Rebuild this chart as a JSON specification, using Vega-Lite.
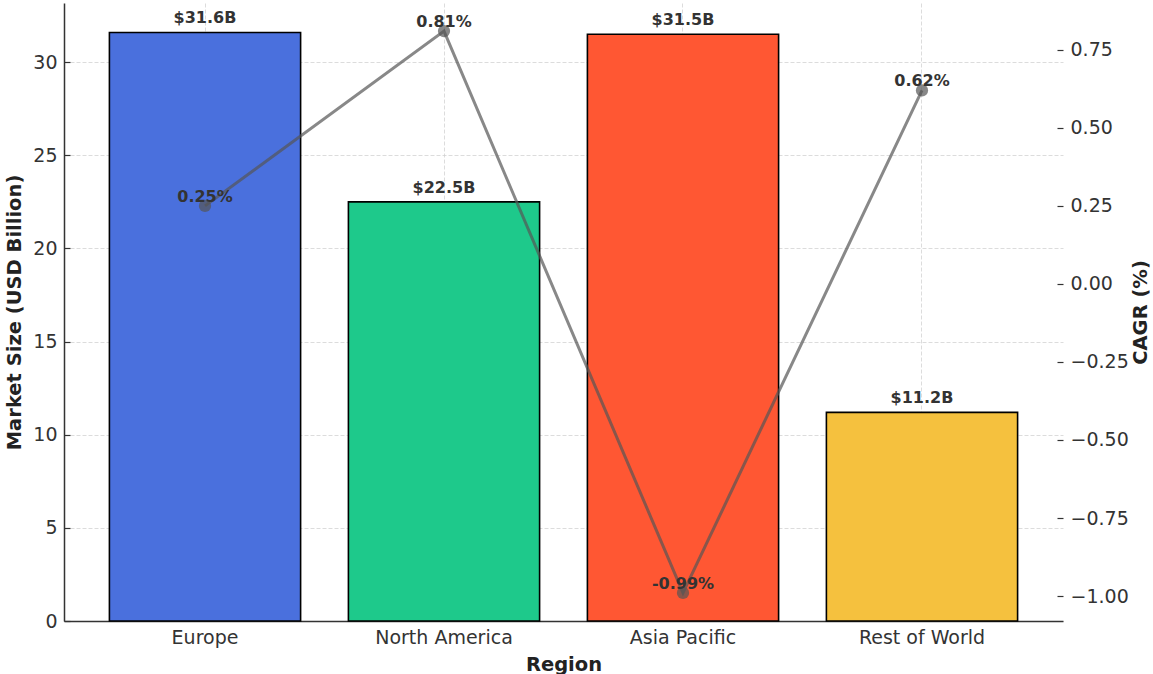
{
  "$schema": "https://vega.github.io/schema/vega-lite/v6.json",
  "width": 999,
  "height": 618,
  "autosize": {"type": "none"},
  "padding": {"left": 64, "top": 3, "right": 90, "bottom": 53},
  "background": "white",
  "config": {
    "font": "DejaVu Sans",
    "view": {"stroke": null},
    "axis": {
      "labelFont": "DejaVu Sans",
      "labelFontSize": 19,
      "labelColor": "#333333",
      "titleFont": "DejaVu Sans",
      "titleFontSize": 19.5,
      "titleFontWeight": "bold",
      "titleColor": "#222222",
      "domainColor": "#333333",
      "domainWidth": 1.5,
      "tickColor": "#333333",
      "tickWidth": 1.2,
      "tickSize": -6,
      "labelPadding": 13,
      "gridColor": "#d0d0d0",
      "gridOpacity": 0.75,
      "gridDash": [4, 2],
      "gridWidth": 1,
      "zindex": 1
    }
  },
  "data": {
    "values": [
      {"region": "Europe", "market_size": 31.6, "cagr": 0.25},
      {"region": "North America", "market_size": 22.5, "cagr": 0.81},
      {"region": "Asia Pacific", "market_size": 31.5, "cagr": -0.99},
      {"region": "Rest of World", "market_size": 11.2, "cagr": 0.62}
    ]
  },
  "transform": [
    {"calculate": "'$' + format(datum.market_size, '.1f') + 'B'", "as": "size_label"},
    {"calculate": "replace(format(datum.cagr, '.2f'), '\u2212', '-') + '%'", "as": "cagr_label"}
  ],
  "encoding": {
    "x": {
      "field": "region",
      "type": "nominal",
      "sort": null,
      "scale": {"paddingInner": 0.2, "paddingOuter": 0.19},
      "axis": {
        "title": "Region",
        "labelAngle": 0,
        "grid": true,
        "bandPosition": 0.5,
        "titlePadding": 8
      }
    }
  },
  "layer": [
    {
      "layer": [
        {
          "mark": {"type": "bar", "stroke": "black", "strokeWidth": 1.6},
          "encoding": {
            "y": {
              "field": "market_size",
              "type": "quantitative",
              "scale": {"domain": [0, 33.18], "nice": false, "zero": true},
              "axis": {
                "title": "Market Size (USD Billion)",
                "values": [0, 5, 10, 15, 20, 25, 30],
                "format": "d",
                "titlePadding": 8
              }
            },
            "color": {
              "field": "region",
              "type": "nominal",
              "scale": {
                "domain": ["Europe", "North America", "Asia Pacific", "Rest of World"],
                "range": ["#4a70dd", "#1ec98b", "#ff5733", "#f5c13e"]
              },
              "legend": null
            }
          }
        },
        {
          "mark": {
            "type": "text",
            "baseline": "alphabetic",
            "dy": -9,
            "fontSize": 16,
            "fontWeight": "bold",
            "color": "#333333"
          },
          "encoding": {
            "y": {"field": "market_size", "type": "quantitative"},
            "text": {"field": "size_label"}
          }
        }
      ]
    },
    {
      "encoding": {
        "y": {
          "field": "cagr",
          "type": "quantitative",
          "scale": {"domain": [-1.08, 0.9], "nice": false, "zero": false},
          "axis": {
            "orient": "right",
            "title": "CAGR (%)",
            "titleAngle": 270,
            "titleBaseline": "top",
            "values": [-1, -0.75, -0.5, -0.25, 0, 0.25, 0.5, 0.75],
            "format": ".2f",
            "domain": false,
            "titlePadding": 3
          }
        }
      },
      "layer": [
        {
          "mark": {"type": "line", "color": "#555555", "opacity": 0.7, "strokeWidth": 3},
          "encoding": {}
        },
        {
          "mark": {"type": "point", "filled": true, "shape": "circle", "size": 150, "color": "#555555", "opacity": 0.7},
          "encoding": {}
        },
        {
          "mark": {
            "type": "text",
            "baseline": "alphabetic",
            "dy": -4,
            "fontSize": 16,
            "fontWeight": "bold",
            "color": "#333333"
          },
          "encoding": {"text": {"field": "cagr_label"}}
        }
      ]
    }
  ],
  "resolve": {"scale": {"y": "independent"}}
}
